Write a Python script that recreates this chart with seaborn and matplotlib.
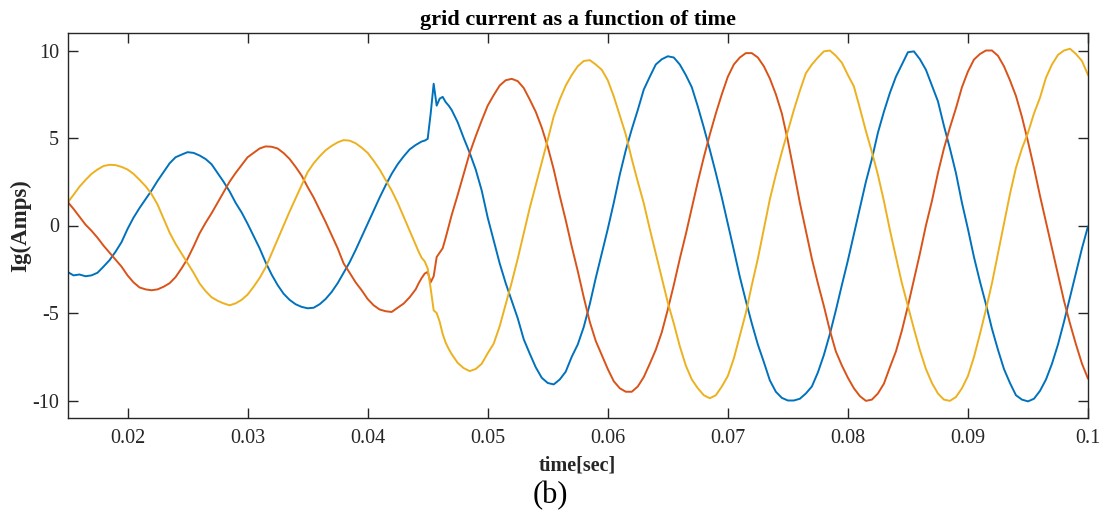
import numpy as np
import pandas as pd
import matplotlib
matplotlib.use("Agg")
import matplotlib.pyplot as plt
import seaborn as sns

# ---------------- data ----------------
# sampling instants [s]: 0.5 ms steps, 0.25 ms steps around the transient
t_seg_a = np.linspace(0.015, 0.044, 59)
t_seg_b = np.linspace(0.04425, 0.047, 12)
t_seg_c = np.linspace(0.0475, 0.100, 106)

# phase a (blue)
ia_seg_a = [-2.65, -2.85, -2.8, -2.9, -2.85, -2.7, -2.35, -1.98, -1.5, -0.95,
            -0.2, 0.45, 1.0, 1.5, 2.0, 2.55, 3.05, 3.55, 3.9, 4.05,
            4.19, 4.15, 4.0, 3.8, 3.5, 3.0, 2.5, 1.95, 1.3, 0.75,
            0.1, -0.6, -1.3, -2.1, -2.8, -3.4, -3.9, -4.25, -4.5, -4.65,
            -4.73, -4.7, -4.5, -4.2, -3.8, -3.3, -2.7, -2.1, -1.4, -0.65,
            0.1, 0.85, 1.6, 2.3, 2.95, 3.5, 3.95, 4.35, 4.6]
ia_seg_b = [4.7, 4.8, 4.85, 4.95, 6.4, 8.1, 6.85, 7.25, 7.35, 7.05, 6.85, 6.6]
ia_seg_c = [5.9, 5.0, 4.15, 3.2, 2.0,
            0.45, -0.85, -2.17, -3.3, -4.3, -5.3, -6.5, -7.32, -8.1, -8.7,
            -9.0, -9.08, -8.8, -8.35, -7.5, -6.8, -5.8, -4.5, -3.0, -1.6,
            -0.2, 1.3, 2.9, 4.3, 5.5, 6.6, 7.77, 8.5, 9.2, 9.5,
            9.67, 9.6, 9.2, 8.6, 7.9, 6.8, 5.6, 4.33, 3.0, 1.6,
            0.1, -1.4, -2.93, -4.3, -5.6, -6.8, -7.8, -8.85, -9.5, -9.85,
            -10.0, -10.0, -9.9, -9.6, -9.2, -8.4, -7.4, -6.2, -4.84, -3.4,
            -2.0, -0.5, 1.0, 2.5, 3.8, 5.3, 6.5, 7.58, 8.5, 9.2,
            9.9, 9.95, 9.5, 8.9, 8.0, 7.1, 5.7, 4.4, 3.0, 1.3,
            -0.2, -1.8, -3.2, -4.5, -5.9, -7.1, -8.2, -9.0, -9.7, -9.95,
            -10.05, -9.9, -9.45, -8.8, -7.9, -6.8, -5.5, -4.1, -2.7, -1.3,
            -0.05]

# phase b (red)
ib_seg_a = [1.36, 0.95, 0.5, 0.05, -0.3, -0.7, -1.15, -1.55, -1.95, -2.35,
            -2.85, -3.25, -3.54, -3.65, -3.7, -3.65, -3.5, -3.3, -2.95, -2.45,
            -1.9, -1.2, -0.45, 0.15, 0.7, 1.3, 1.9, 2.5, 3.0, 3.45,
            3.9, 4.15, 4.4, 4.52, 4.5, 4.4, 4.14, 3.8, 3.35, 2.85,
            2.2, 1.6, 0.9, 0.2, -0.55, -1.3, -2.17, -2.7, -3.25, -3.7,
            -4.2, -4.56, -4.8, -4.9, -4.94, -4.7, -4.46, -4.1, -3.65]
ib_seg_b = [-3.3, -3.0, -2.75, -2.65, -3.25, -2.9, -1.8, -1.55, -1.3, -0.7, -0.05, 0.6]
ib_seg_c = [1.75, 2.95, 4.14, 5.1, 6.0,
            6.85, 7.45, 8.0, 8.3, 8.38, 8.25, 7.86, 7.2, 6.5, 5.6,
            4.5, 3.2, 1.7, 0.3, -1.2, -2.6, -4.1, -5.5, -6.6, -7.4,
            -8.2, -8.9, -9.3, -9.5, -9.5, -9.2, -8.66, -7.9, -7.1, -6.1,
            -4.8, -3.4, -1.9, -0.5, 1.0, 2.5, 3.9, 5.2, 6.4, 7.5,
            8.5, 9.2, 9.6, 9.85, 9.85, 9.6, 9.1, 8.4, 7.5, 6.4,
            4.85, 3.1, 1.3, -0.3, -1.9, -3.3, -4.6, -6.0, -7.2, -8.0,
            -8.7, -9.3, -9.75, -10.02, -9.95, -9.6, -9.04, -8.1, -7.2, -6.0,
            -4.6, -3.1, -1.6, 0.0, 1.4, 3.0, 4.4, 5.6, 6.7, 7.9,
            8.8, 9.48, 9.8, 10.0, 10.0, 9.7, 9.1, 8.3, 7.4, 6.2,
            4.8, 3.3, 1.7, 0.2, -1.3, -2.8, -4.3, -5.6, -6.8, -7.9,
            -8.75]

# phase c (yellow)
ic_seg_a = [1.3, 1.75, 2.22, 2.6, 2.95, 3.2, 3.4, 3.47, 3.45, 3.35,
            3.2, 2.95, 2.61, 2.25, 1.8, 1.2, 0.4, -0.4, -1.05, -1.6,
            -2.15, -2.7, -3.31, -3.75, -4.1, -4.3, -4.45, -4.56, -4.45, -4.25,
            -3.95, -3.5, -3.0, -2.4, -1.6, -0.8, 0.0, 0.8, 1.55, 2.3,
            3.05, 3.55, 3.95, 4.3, 4.55, 4.75, 4.88, 4.85, 4.7, 4.45,
            4.15, 3.7, 3.2, 2.6, 2.0, 1.3, 0.5, -0.3, -1.1]
ic_seg_b = [-1.5, -1.85, -2.05, -2.45, -3.6, -4.85, -5.0, -5.5, -6.2, -6.7, -7.05, -7.35]
ic_seg_c = [-7.85, -8.15, -8.32, -8.2, -7.9,
            -7.3, -6.75, -5.75, -4.5, -3.25, -1.9, -0.45, 1.0, 2.3, 3.6,
            4.9, 6.24, 7.2, 8.0, 8.6, 9.1, 9.4, 9.45, 9.2, 8.9,
            8.3, 7.38, 6.3, 5.2, 3.8, 2.5, 1.27, -0.2, -1.6, -3.0,
            -4.4, -5.6, -6.9, -8.0, -8.8, -9.3, -9.7, -9.87, -9.7, -9.2,
            -8.6, -7.6, -6.3, -5.0, -3.4, -1.9, -0.2, 1.5, 2.9, 4.2,
            5.4, 6.6, 7.7, 8.7, 9.2, 9.6, 9.95, 10.0, 9.7, 9.3,
            8.6, 7.95, 6.7, 5.4, 4.2, 2.9, 1.4, -0.26, -1.8, -3.3,
            -4.6, -5.9, -7.13, -8.2, -9.0, -9.6, -9.95, -10.02, -9.8, -9.3,
            -8.6, -7.52, -6.2, -4.8, -3.3, -1.6, 0.13, 1.8, 3.3, 4.4,
            5.3, 6.4, 7.3, 8.45, 9.2, 9.75, 10.0, 10.1, 9.8, 9.4,
            8.6]

phase_names = ["a", "b", "c"]
phase_colors = ["#0072BD", "#D95319", "#EDB120"]
x_ticks = [0.02, 0.03, 0.04, 0.05, 0.06, 0.07, 0.08, 0.09, 0.1]
x_tick_labels = ["0.02", "0.03", "0.04", "0.05", "0.06", "0.07", "0.08", "0.09", "0.1"]
y_ticks = [-10, -5, 0, 5, 10]
y_tick_labels = ["-10", "-5", "0", "5", "10"]

# ---------------- build table ----------------
t_all = np.concatenate([t_seg_a, t_seg_b, t_seg_c])
series = {
    "a": ia_seg_a + ia_seg_b + ia_seg_c,
    "b": ib_seg_a + ib_seg_b + ib_seg_c,
    "c": ic_seg_a + ic_seg_b + ic_seg_c,
}
frames = []
for name in phase_names:
    vals = series[name]
    assert len(vals) == len(t_all), (name, len(vals), len(t_all))
    frames.append(pd.DataFrame({"t": t_all, "I": vals, "phase": name}))
df = pd.concat(frames, ignore_index=True)

# ---------------- style ----------------
sns.set_theme(style="white")
plt.rcParams["font.family"] = ["Liberation Serif", "DejaVu Serif"]
plt.rcParams["axes.unicode_minus"] = False
plt.rcParams["mathtext.default"] = "regular"

fig = plt.figure(figsize=(11.07, 5.15), dpi=100)
ax = fig.add_axes([67.5 / 1107, 1 - 418 / 515, (1088 - 67.5) / 1107, (418 - 33) / 515])

sns.lineplot(data=df, x="t", y="I", hue="phase", hue_order=phase_names,
             palette=phase_colors, estimator=None, sort=False,
             linewidth=1.4, legend=False, ax=ax)

ax.set_xlim(0.015, 0.1)
ax.set_ylim(-11, 11)
ax.set_xticks(x_ticks)
ax.set_xticklabels(x_tick_labels)
ax.set_yticks(y_ticks)
ax.set_yticklabels(y_tick_labels)

for side in ["top", "right", "bottom", "left"]:
    ax.spines[side].set_visible(True)
    ax.spines[side].set_color("#262626")
    ax.spines[side].set_linewidth(1.0)

ax.tick_params(axis="both", which="major", direction="in", length=7, width=1.0,
               color="#262626", labelsize=14.5, labelcolor="#262626",
               top=True, right=True, bottom=True, left=True)
ax.tick_params(axis="x", pad=8)
ax.tick_params(axis="y", pad=6)

ax.set_xlabel("time[sec]", fontsize=14.5, fontweight="bold", color="#262626", labelpad=5)
ax.set_ylabel("Ig(Amps)", fontsize=16.5, fontweight="bold", color="#262626", labelpad=1)
ax.set_title("grid current as a function of time", fontsize=16, fontweight="bold",
             color="#000000", pad=6)

fig.text(550 / 1107, 1 - 496 / 515, "(b)", ha="center", va="center", fontsize=22,
         color="#000000")

fig.savefig("out.png", dpi=100)
